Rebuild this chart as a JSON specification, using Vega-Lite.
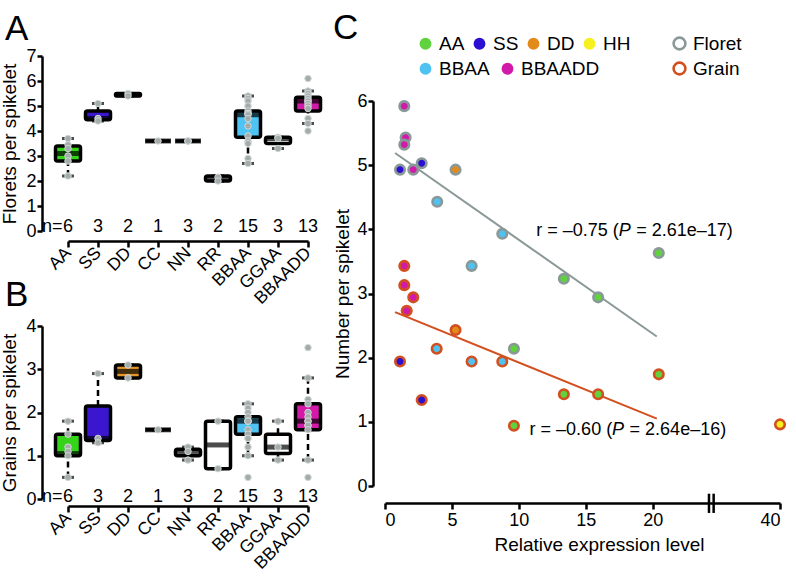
{
  "$schema": "https://vega.github.io/schema/vega-lite/v6.json",
  "padding": {"left": 0, "top": 11, "right": 2, "bottom": 2},
  "bounds": "flush",
  "spacing": 317,
  "resolve": {"scale": {"fill": "independent", "stroke": "independent", "color": "independent"}, "legend": {"fill": "independent", "stroke": "independent", "color": "independent"}},
  "datasets": {
    "boxA": [
      {"g": "AA", "min": 2.2, "q1": 2.8, "med": 3.1, "q3": 3.4, "max": 3.7, "n": "6"},
      {"g": "SS", "min": 4.4, "q1": 4.45, "med": 4.5, "q3": 4.8, "max": 5.1, "n": "3"},
      {"g": "DD", "min": 5.4, "q1": 5.4, "med": 5.45, "q3": 5.5, "max": 5.5, "n": "2"},
      {"g": "CC", "min": 3.6, "q1": 3.6, "med": 3.6, "q3": 3.6, "max": 3.6, "n": "1"},
      {"g": "NN", "min": 3.6, "q1": 3.6, "med": 3.6, "q3": 3.6, "max": 3.6, "n": "3"},
      {"g": "RR", "min": 2.0, "q1": 2.0, "med": 2.1, "q3": 2.2, "max": 2.2, "n": "2"},
      {"g": "BBAA", "min": 2.7, "q1": 3.75, "med": 4.65, "q3": 4.8, "max": 5.4, "n": "15"},
      {"g": "GGAA", "min": 3.3, "q1": 3.5, "med": 3.7, "q3": 3.75, "max": 3.75, "n": "3"},
      {"g": "BBAADD", "min": 4.3, "q1": 4.8, "med": 5.2, "q3": 5.35, "max": 5.6, "n": "13"}
    ],
    "ptsA": [
      {"g": "AA", "v": 3.7}, {"g": "AA", "v": 3.45}, {"g": "AA", "v": 3.3}, {"g": "AA", "v": 3.0}, {"g": "AA", "v": 2.8}, {"g": "AA", "v": 2.2},
      {"g": "SS", "v": 5.1}, {"g": "SS", "v": 4.5}, {"g": "SS", "v": 4.4},
      {"g": "DD", "v": 5.5}, {"g": "DD", "v": 5.4},
      {"g": "CC", "v": 3.6},
      {"g": "NN", "v": 3.6}, {"g": "NN", "v": 3.6}, {"g": "NN", "v": 3.6},
      {"g": "RR", "v": 2.15}, {"g": "RR", "v": 2.0},
      {"g": "BBAA", "v": 5.4}, {"g": "BBAA", "v": 5.3}, {"g": "BBAA", "v": 5.2}, {"g": "BBAA", "v": 5.0}, {"g": "BBAA", "v": 4.8},
      {"g": "BBAA", "v": 4.7}, {"g": "BBAA", "v": 4.7}, {"g": "BBAA", "v": 4.65}, {"g": "BBAA", "v": 4.5}, {"g": "BBAA", "v": 4.2},
      {"g": "BBAA", "v": 3.8}, {"g": "BBAA", "v": 3.6}, {"g": "BBAA", "v": 3.5}, {"g": "BBAA", "v": 2.9}, {"g": "BBAA", "v": 2.7},
      {"g": "GGAA", "v": 3.75}, {"g": "GGAA", "v": 3.7}, {"g": "GGAA", "v": 3.3},
      {"g": "BBAADD", "v": 6.1}, {"g": "BBAADD", "v": 5.6}, {"g": "BBAADD", "v": 5.5}, {"g": "BBAADD", "v": 5.4}, {"g": "BBAADD", "v": 5.3},
      {"g": "BBAADD", "v": 5.2}, {"g": "BBAADD", "v": 5.2}, {"g": "BBAADD", "v": 5.1}, {"g": "BBAADD", "v": 5.0}, {"g": "BBAADD", "v": 4.9},
      {"g": "BBAADD", "v": 4.5}, {"g": "BBAADD", "v": 4.3}, {"g": "BBAADD", "v": 4.0}
    ],
    "boxB": [
      {"g": "AA", "min": 0.5, "q1": 1.0, "med": 1.05, "q3": 1.5, "max": 1.8, "n": "6"},
      {"g": "SS", "min": 1.3, "q1": 1.35, "med": 1.4, "q3": 2.15, "max": 2.9, "n": "3"},
      {"g": "DD", "min": 2.8, "q1": 2.8, "med": 2.95, "q3": 3.1, "max": 3.1, "n": "2"},
      {"g": "CC", "min": 1.6, "q1": 1.6, "med": 1.6, "q3": 1.6, "max": 1.6, "n": "1"},
      {"g": "NN", "min": 0.9, "q1": 1.0, "med": 1.1, "q3": 1.15, "max": 1.2, "n": "3"},
      {"g": "RR", "min": 0.7, "q1": 0.7, "med": 1.25, "q3": 1.8, "max": 1.8, "n": "2"},
      {"g": "BBAA", "min": 1.0, "q1": 1.5, "med": 1.8, "q3": 1.9, "max": 2.2, "n": "15"},
      {"g": "GGAA", "min": 0.9, "q1": 1.05, "med": 1.2, "q3": 1.5, "max": 1.8, "n": "3"},
      {"g": "BBAADD", "min": 0.9, "q1": 1.6, "med": 1.8, "q3": 2.2, "max": 2.8, "n": "13"}
    ],
    "ptsB": [
      {"g": "AA", "v": 1.8}, {"g": "AA", "v": 1.5}, {"g": "AA", "v": 1.2}, {"g": "AA", "v": 1.1}, {"g": "AA", "v": 1.0}, {"g": "AA", "v": 0.5},
      {"g": "SS", "v": 2.9}, {"g": "SS", "v": 1.4}, {"g": "SS", "v": 1.3},
      {"g": "DD", "v": 3.1}, {"g": "DD", "v": 2.8},
      {"g": "CC", "v": 1.6},
      {"g": "NN", "v": 1.2}, {"g": "NN", "v": 1.1}, {"g": "NN", "v": 0.9},
      {"g": "RR", "v": 1.8}, {"g": "RR", "v": 0.7},
      {"g": "BBAA", "v": 2.2}, {"g": "BBAA", "v": 2.1}, {"g": "BBAA", "v": 2.0}, {"g": "BBAA", "v": 1.9}, {"g": "BBAA", "v": 1.8},
      {"g": "BBAA", "v": 1.8}, {"g": "BBAA", "v": 1.8}, {"g": "BBAA", "v": 1.8}, {"g": "BBAA", "v": 1.6}, {"g": "BBAA", "v": 1.5},
      {"g": "BBAA", "v": 1.4}, {"g": "BBAA", "v": 1.4}, {"g": "BBAA", "v": 1.2}, {"g": "BBAA", "v": 1.0}, {"g": "BBAA", "v": 0.5},
      {"g": "GGAA", "v": 1.8}, {"g": "GGAA", "v": 1.2}, {"g": "GGAA", "v": 0.9},
      {"g": "BBAADD", "v": 3.5}, {"g": "BBAADD", "v": 2.8}, {"g": "BBAADD", "v": 2.3}, {"g": "BBAADD", "v": 2.2}, {"g": "BBAADD", "v": 2.0},
      {"g": "BBAADD", "v": 1.9}, {"g": "BBAADD", "v": 1.8}, {"g": "BBAADD", "v": 1.8}, {"g": "BBAADD", "v": 1.7}, {"g": "BBAADD", "v": 1.7},
      {"g": "BBAADD", "v": 1.6}, {"g": "BBAADD", "v": 0.9}, {"g": "BBAADD", "v": 0.5}
    ],
    "nPre": [{"g": "AA", "t": "n="}],
    "sc": [
      {"x": 1.44, "y": 5.92, "g": "BBAADD", "type": "Floret"},
      {"x": 1.54, "y": 5.43, "g": "BBAADD", "type": "Floret"},
      {"x": 1.44, "y": 5.32, "g": "BBAADD", "type": "Floret"},
      {"x": 1.12, "y": 4.93, "g": "SS", "type": "Floret"},
      {"x": 2.11, "y": 4.93, "g": "BBAADD", "type": "Floret"},
      {"x": 2.74, "y": 5.03, "g": "SS", "type": "Floret"},
      {"x": 5.27, "y": 4.93, "g": "DD", "type": "Floret"},
      {"x": 3.9, "y": 4.43, "g": "BBAA", "type": "Floret"},
      {"x": 8.76, "y": 3.93, "g": "BBAA", "type": "Floret"},
      {"x": 6.47, "y": 3.43, "g": "BBAA", "type": "Floret"},
      {"x": 13.36, "y": 3.23, "g": "AA", "type": "Floret"},
      {"x": 15.92, "y": 2.94, "g": "AA", "type": "Floret"},
      {"x": 20.45, "y": 3.63, "g": "AA", "type": "Floret"},
      {"x": 9.63, "y": 2.14, "g": "AA", "type": "Floret"},
      {"x": 1.44, "y": 3.43, "g": "BBAADD", "type": "Grain"},
      {"x": 1.44, "y": 3.13, "g": "BBAADD", "type": "Grain"},
      {"x": 2.11, "y": 2.94, "g": "BBAADD", "type": "Grain"},
      {"x": 1.62, "y": 2.73, "g": "BBAADD", "type": "Grain"},
      {"x": 5.27, "y": 2.43, "g": "DD", "type": "Grain"},
      {"x": 3.86, "y": 2.14, "g": "BBAA", "type": "Grain"},
      {"x": 6.47, "y": 1.94, "g": "BBAA", "type": "Grain"},
      {"x": 8.76, "y": 1.94, "g": "BBAA", "type": "Grain"},
      {"x": 1.12, "y": 1.94, "g": "SS", "type": "Grain"},
      {"x": 2.74, "y": 1.34, "g": "SS", "type": "Grain"},
      {"x": 13.36, "y": 1.43, "g": "AA", "type": "Grain"},
      {"x": 15.92, "y": 1.43, "g": "AA", "type": "Grain"},
      {"x": 20.45, "y": 1.74, "g": "AA", "type": "Grain"},
      {"x": 9.63, "y": 0.94, "g": "AA", "type": "Grain"},
      {"x": 40, "y": 0.96, "g": "HH", "type": "Grain"}
    ],
    "fitF": [{"x": 0.75, "y": 5.19}, {"x": 20.3, "y": 2.33}],
    "fitG": [{"x": 0.75, "y": 2.71}, {"x": 20.3, "y": 1.05}],
    "ann": [
      {"x": 11.3, "y": 3.98, "pre": "r = –0.75 (", "post": "= 2.61e–17)"},
      {"x": 10.8, "y": 0.87, "pre": "r = –0.60 (", "post": "= 2.64e–16)"}
    ],
    "brk": [{"x": 24.2, "y": -0.12, "y2": -0.42}, {"x": 24.65, "y": -0.12, "y2": -0.42}]
  },
  "hconcat": [
    {
      "bounds": "flush",
      "spacing": 95,
      "vconcat": [
        {
          "width": 240,
          "height": 175,
          "title": {"text": "A", "offset": -28, "dx": -63, "baseline": "alphabetic"},
          "encoding": {
            "x": {"field": "g", "type": "nominal",
              "scale": {"type": "point", "padding": 0, "domain": ["AA","SS","DD","CC","NN","RR","BBAA","GGAA","BBAADD"]},
              "axis": {"title": null, "labelAngle": -45, "labelAlign": "right", "labelBaseline": "middle", "offset": 10, "tickSize": 6, "labelFontSize": 17.5, "labelPadding": 3}}
          },
          "layer": [
            {"data": {"name": "boxA"}, "mark": {"type": "rule", "strokeDash": [6, 4], "strokeWidth": 2.5, "color": "black"},
              "encoding": {"y": {"field": "q3", "type": "quantitative", "title": "Florets per spikelet",
                "scale": {"domain": [0, 7], "nice": false, "zero": false},
                "axis": {"values": [0,1,2,3,4,5,6,7], "format": "d", "offset": 26, "labelPadding": 1, "titlePadding": 6}},
                "y2": {"field": "max", "title": "Florets per spikelet"}}},
            {"data": {"name": "boxA"}, "mark": {"type": "rule", "strokeDash": [6, 4], "strokeWidth": 2.5, "color": "black"},
              "encoding": {"y": {"field": "min", "type": "quantitative", "title": "Florets per spikelet",
                "axis": {"values": [0,1,2,3,4,5,6,7], "format": "d", "offset": 26, "labelPadding": 1, "titlePadding": 6}},
                "y2": {"field": "q1", "title": "Florets per spikelet"}}},
            {"data": {"name": "boxA"}, "mark": {"type": "tick", "color": "black", "thickness": 3, "size": 12},
              "encoding": {"y": {"field": "max", "type": "quantitative", "title": "Florets per spikelet",
                "axis": {"values": [0,1,2,3,4,5,6,7], "format": "d", "offset": 26, "labelPadding": 1, "titlePadding": 6}}}},
            {"data": {"name": "boxA"}, "mark": {"type": "tick", "color": "black", "thickness": 3, "size": 12},
              "encoding": {"y": {"field": "min", "type": "quantitative", "title": "Florets per spikelet",
                "axis": {"values": [0,1,2,3,4,5,6,7], "format": "d", "offset": 26, "labelPadding": 1, "titlePadding": 6}}}},
            {"data": {"name": "boxA"}, "mark": {"type": "bar", "width": 25, "stroke": "black", "strokeWidth": 3.5, "cornerRadius": 2},
              "encoding": {"y": {"field": "q1", "type": "quantitative", "title": "Florets per spikelet",
                "axis": {"values": [0,1,2,3,4,5,6,7], "format": "d", "offset": 26, "labelPadding": 1, "titlePadding": 6}},
                "y2": {"field": "q3", "title": "Florets per spikelet"},
                "fill": {"field": "g", "type": "nominal", "legend": null,
                  "scale": {"domain": ["AA","SS","DD","CC","NN","RR","BBAA","GGAA","BBAADD"],
                    "range": ["#35d41b","#3a17cf","#e4962a","#ffffff","#ffffff","#ffffff","#4ec4f4","#ffffff","#d41aa8"]}}}},
            {"data": {"name": "boxA"}, "mark": {"type": "tick", "color": "black", "thickness": 5, "size": 26},
              "encoding": {"y": {"field": "med", "type": "quantitative", "title": "Florets per spikelet",
                "axis": {"values": [0,1,2,3,4,5,6,7], "format": "d", "offset": 26, "labelPadding": 1, "titlePadding": 6}}}},
            {"data": {"name": "ptsA"}, "mark": {"type": "circle", "size": 42, "fill": "#a3abab", "stroke": "#d3d8d8", "strokeWidth": 1, "opacity": 1},
              "encoding": {"y": {"field": "v", "type": "quantitative", "title": "Florets per spikelet",
                "axis": {"values": [0,1,2,3,4,5,6,7], "format": "d", "offset": 26, "labelPadding": 1, "titlePadding": 6}}}},
            {"data": {"name": "boxA"}, "mark": {"type": "text", "fontSize": 18, "baseline": "alphabetic", "dy": 1, "color": "black"},
              "encoding": {"y": {"datum": 0, "type": "quantitative", "title": "Florets per spikelet",
                "axis": {"values": [0,1,2,3,4,5,6,7], "format": "d", "offset": 26, "labelPadding": 1, "titlePadding": 6}}, "text": {"field": "n"}}},
            {"data": {"name": "nPre"}, "mark": {"type": "text", "fontSize": 18, "baseline": "alphabetic", "align": "right", "dx": -5.5, "dy": 1, "color": "black"},
              "encoding": {"y": {"datum": 0, "type": "quantitative", "title": "Florets per spikelet",
                "axis": {"values": [0,1,2,3,4,5,6,7], "format": "d", "offset": 26, "labelPadding": 1, "titlePadding": 6}}, "text": {"field": "t"}}}
          ]
        },
        {
          "width": 240,
          "height": 173,
          "title": {"text": "B", "offset": -24, "dx": -63, "baseline": "alphabetic"},
          "encoding": {
            "x": {"field": "g", "type": "nominal",
              "scale": {"type": "point", "padding": 0, "domain": ["AA","SS","DD","CC","NN","RR","BBAA","GGAA","BBAADD"]},
              "axis": {"title": null, "labelAngle": -45, "labelAlign": "right", "labelBaseline": "middle", "offset": 7, "tickSize": 6, "labelFontSize": 17.5, "labelPadding": 3}}
          },
          "layer": [
            {"data": {"name": "boxB"}, "mark": {"type": "rule", "strokeDash": [6, 4], "strokeWidth": 2.5, "color": "black"},
              "encoding": {"y": {"field": "q3", "type": "quantitative", "title": "Grains per spikelet",
                "scale": {"domain": [0, 4], "nice": false, "zero": false},
                "axis": {"values": [0,1,2,3,4], "format": "d", "offset": 26, "labelPadding": 1, "titlePadding": 6}},
                "y2": {"field": "max", "title": "Grains per spikelet"}}},
            {"data": {"name": "boxB"}, "mark": {"type": "rule", "strokeDash": [6, 4], "strokeWidth": 2.5, "color": "black"},
              "encoding": {"y": {"field": "min", "type": "quantitative", "title": "Grains per spikelet",
                "axis": {"values": [0,1,2,3,4], "format": "d", "offset": 26, "labelPadding": 1, "titlePadding": 6}},
                "y2": {"field": "q1", "title": "Grains per spikelet"}}},
            {"data": {"name": "boxB"}, "mark": {"type": "tick", "color": "black", "thickness": 3, "size": 12},
              "encoding": {"y": {"field": "max", "type": "quantitative", "title": "Grains per spikelet",
                "axis": {"values": [0,1,2,3,4], "format": "d", "offset": 26, "labelPadding": 1, "titlePadding": 6}}}},
            {"data": {"name": "boxB"}, "mark": {"type": "tick", "color": "black", "thickness": 3, "size": 12},
              "encoding": {"y": {"field": "min", "type": "quantitative", "title": "Grains per spikelet",
                "axis": {"values": [0,1,2,3,4], "format": "d", "offset": 26, "labelPadding": 1, "titlePadding": 6}}}},
            {"data": {"name": "boxB"}, "mark": {"type": "bar", "width": 25, "stroke": "black", "strokeWidth": 3.5, "cornerRadius": 2},
              "encoding": {"y": {"field": "q1", "type": "quantitative", "title": "Grains per spikelet",
                "axis": {"values": [0,1,2,3,4], "format": "d", "offset": 26, "labelPadding": 1, "titlePadding": 6}},
                "y2": {"field": "q3", "title": "Grains per spikelet"},
                "fill": {"field": "g", "type": "nominal", "legend": null,
                  "scale": {"domain": ["AA","SS","DD","CC","NN","RR","BBAA","GGAA","BBAADD"],
                    "range": ["#35d41b","#3a17cf","#e4962a","#ffffff","#ffffff","#ffffff","#4ec4f4","#ffffff","#d41aa8"]}}}},
            {"data": {"name": "boxB"}, "mark": {"type": "tick", "color": "black", "thickness": 5, "size": 26},
              "encoding": {"y": {"field": "med", "type": "quantitative", "title": "Grains per spikelet",
                "axis": {"values": [0,1,2,3,4], "format": "d", "offset": 26, "labelPadding": 1, "titlePadding": 6}}}},
            {"data": {"name": "ptsB"}, "mark": {"type": "circle", "size": 42, "fill": "#a3abab", "stroke": "#d3d8d8", "strokeWidth": 1, "opacity": 1},
              "encoding": {"y": {"field": "v", "type": "quantitative", "title": "Grains per spikelet",
                "axis": {"values": [0,1,2,3,4], "format": "d", "offset": 26, "labelPadding": 1, "titlePadding": 6}}}},
            {"data": {"name": "boxB"}, "mark": {"type": "text", "fontSize": 18, "baseline": "alphabetic", "dy": 3, "color": "black"},
              "encoding": {"y": {"datum": 0, "type": "quantitative", "title": "Grains per spikelet",
                "axis": {"values": [0,1,2,3,4], "format": "d", "offset": 26, "labelPadding": 1, "titlePadding": 6}}, "text": {"field": "n"}}},
            {"data": {"name": "nPre"}, "mark": {"type": "text", "fontSize": 18, "baseline": "alphabetic", "align": "right", "dx": -5.5, "dy": 3, "color": "black"},
              "encoding": {"y": {"datum": 0, "type": "quantitative", "title": "Grains per spikelet",
                "axis": {"values": [0,1,2,3,4], "format": "d", "offset": 26, "labelPadding": 1, "titlePadding": 6}}, "text": {"field": "t"}}}
          ]
        }
      ]
    },
    {
      "width": 395,
      "height": 430,
      "title": {"text": "C", "offset": -40, "dx": -52, "baseline": "alphabetic"},
      "layer": [
        {"data": {"name": "fitF"}, "mark": {"type": "line", "color": "#8a9898", "strokeWidth": 2},
          "encoding": {
            "x": {"field": "x", "type": "quantitative", "title": "Relative expression level",
              "scale": {"domain": [0, 24.5, 40], "range": [0, 328, 395], "nice": false, "zero": false},
              "axis": {"values": [0, 5, 10, 15, 20, 40], "format": "d", "offset": 17, "tickSize": 6, "labelFontSize": 18, "titlePadding": 6, "titleX": 214}},
            "y": {"field": "y", "type": "quantitative", "title": "Number per spikelet",
              "scale": {"domain": [0, 6], "range": [430, 45], "nice": false, "zero": false},
              "axis": {"values": [0, 1, 2, 3, 4, 5, 6], "format": "d", "offset": 12, "labelPadding": 1, "titlePadding": 4}}}},
        {"data": {"name": "fitG"}, "mark": {"type": "line", "color": "#d2501f", "strokeWidth": 2},
          "encoding": {
            "x": {"field": "x", "type": "quantitative", "title": "Relative expression level"},
            "y": {"field": "y", "type": "quantitative", "title": "Number per spikelet"}}},
        {"data": {"name": "sc"}, "transform": [{"filter": "indexof(['AA','SS','DD','HH'], datum.g) >= 0"}],
          "mark": {"type": "circle", "size": 90, "strokeWidth": 2.6, "opacity": 1},
          "encoding": {
            "x": {"field": "x", "type": "quantitative", "title": "Relative expression level"},
            "y": {"field": "y", "type": "quantitative", "title": "Number per spikelet"},
            "fill": {"field": "g", "type": "nominal",
              "scale": {"domain": ["AA","SS","DD","HH"], "range": ["#5ed33e","#2b0fd2","#e38b1a","#f6f01e"]},
              "legend": {"title": null, "orient": "none", "legendX": 31, "legendY": -22, "direction": "horizontal",
                "symbolType": "circle", "symbolSize": 140, "symbolStrokeWidth": 0, "labelFontSize": 19, "labelOffset": 4, "columnPadding": 5}},
            "stroke": {"field": "type", "type": "nominal",
              "scale": {"domain": ["Floret", "Grain"], "range": ["#8a9898", "#d2501f"]},
              "legend": {"title": null, "orient": "none", "legendX": 285, "legendY": -22, "direction": "vertical",
                "symbolType": "circle", "symbolSize": 140, "symbolStrokeWidth": 2.6, "symbolFillColor": "white", "labelFontSize": 19, "labelOffset": 4, "rowPadding": 2,
                "encode": {"symbols": {"fill": {"value": "white"}, "strokeWidth": {"value": 2.6}}}}}}},
        {"data": {"name": "sc"}, "transform": [{"filter": "indexof(['BBAA','BBAADD'], datum.g) >= 0"}],
          "mark": {"type": "circle", "size": 90, "strokeWidth": 2.6, "opacity": 1},
          "encoding": {
            "x": {"field": "x", "type": "quantitative", "title": "Relative expression level"},
            "y": {"field": "y", "type": "quantitative", "title": "Number per spikelet"},
            "color": {"field": "g", "type": "nominal",
              "scale": {"domain": ["BBAA","BBAADD"], "range": ["#4fc2f2","#d21aaa"]},
              "legend": {"title": null, "orient": "none", "legendX": 31, "legendY": 3, "direction": "horizontal",
                "symbolType": "circle", "symbolSize": 140, "symbolStrokeWidth": 0, "labelFontSize": 19, "labelOffset": 4, "columnPadding": 8}},
            "stroke": {"field": "type", "type": "nominal"}}},
        {"data": {"name": "ann"}, "mark": {"type": "text", "align": "left", "baseline": "middle", "fontSize": 18, "color": "black"},
          "encoding": {"x": {"field": "x", "type": "quantitative"}, "y": {"field": "y", "type": "quantitative"}, "text": {"field": "pre"}}},
        {"data": {"name": "ann"}, "mark": {"type": "text", "align": "left", "baseline": "middle", "fontSize": 18, "fontStyle": "italic", "dx": 82.5, "color": "black"},
          "encoding": {"x": {"field": "x", "type": "quantitative"}, "y": {"field": "y", "type": "quantitative"}, "text": {"value": "P"}}},
        {"data": {"name": "ann"}, "mark": {"type": "text", "align": "left", "baseline": "middle", "fontSize": 18, "dx": 100, "color": "black"},
          "encoding": {"x": {"field": "x", "type": "quantitative"}, "y": {"field": "y", "type": "quantitative"}, "text": {"field": "post"}}},
        {"data": {"name": "brk"}, "mark": {"type": "rule", "color": "black", "strokeWidth": 2.5},
          "encoding": {"x": {"field": "x", "type": "quantitative"}, "y": {"field": "y", "type": "quantitative"}, "y2": {"field": "y2"}}}
      ]
    }
  ],
  "config": {
    "font": "Liberation Sans",
    "view": {"stroke": null},
    "axis": {"domainColor": "black", "domainWidth": 2.5, "tickColor": "black", "tickWidth": 2.5, "labelColor": "black", "titleColor": "black",
      "titleFontWeight": "normal", "grid": false, "labelFontSize": 18, "titleFontSize": 19, "tickSize": 5, "labelPadding": 2},
    "legend": {"labelFontSize": 19, "labelColor": "black"},
    "title": {"fontSize": 35, "fontWeight": "normal", "anchor": "start", "frame": "group", "color": "black"}
  }
}
